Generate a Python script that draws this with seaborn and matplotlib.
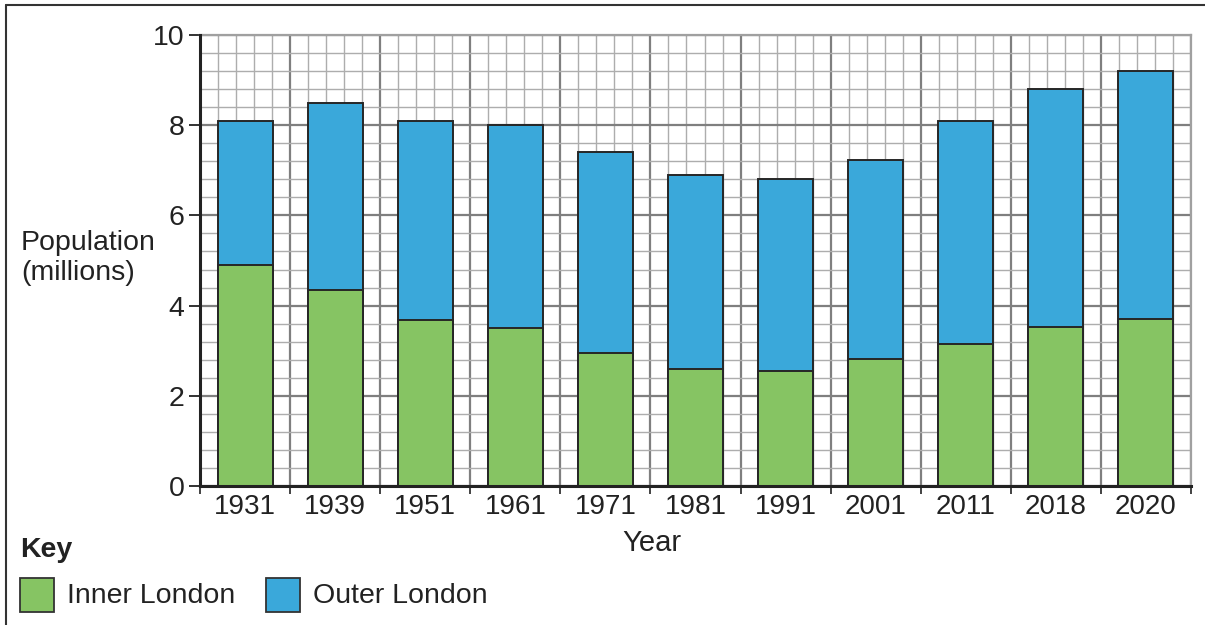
import numpy as np
import pandas as pd
import matplotlib
matplotlib.use("Agg")
import matplotlib.pyplot as plt
import seaborn as sns
from matplotlib.patches import Rectangle
from matplotlib.lines import Line2D

years = ["1931", "1939", "1951", "1961", "1971", "1981", "1991", "2001", "2011", "2018", "2020"]
inner = [4.9, 4.35, 3.67, 3.5, 2.95, 2.59, 2.56, 2.81, 3.15, 3.52, 3.7]
outer = [3.2, 4.15, 4.43, 4.5, 4.45, 4.31, 4.24, 4.41, 4.95, 5.28, 5.5]

green = "#86c463"
blue = "#3aa8da"
edge = "#262626"

df = pd.DataFrame({"Year": years, "Inner": inner, "Outer": outer})
df["Total"] = df["Inner"] + df["Outer"]

sns.set_style("white")
plt.rcParams["font.family"] = ["Liberation Sans", "DejaVu Sans"]

fig = plt.figure(figsize=(12.05, 6.25), dpi=100)
ax = fig.add_axes([200 / 1205, 1 - 486 / 625, 991 / 1205, 451 / 625])

# grid first
n = len(years)
for k in range(n * 5 + 1):
    x = -0.5 + k * 0.2
    major = k % 5 == 0
    ax.axvline(x, color="#7f7f7f" if major else "#adadad",
               lw=1.6 if major else 1.0, zorder=0)
for k in range(26):
    y = k * 0.4
    major = k % 5 == 0
    ax.axhline(y, color="#7f7f7f" if major else "#adadad",
               lw=1.6 if major else 1.0, zorder=0)

sns.barplot(data=df, x="Year", y="Total", color=blue, width=0.61,
            edgecolor=edge, linewidth=1.4, saturation=1, ax=ax, zorder=2)
sns.barplot(data=df, x="Year", y="Inner", color=green, width=0.61,
            edgecolor=edge, linewidth=1.4, saturation=1, ax=ax, zorder=3)

ax.set_xlim(-0.5, n - 0.5)
ax.set_ylim(0, 10)
ax.set_xlabel("")
ax.set_ylabel("")

ax.set_yticks([0, 2, 4, 6, 8, 10])
ax.set_yticklabels(["0", "2", "4", "6", "8", "10"], fontsize=20.5, color="#222222")
ax.set_xticks(np.arange(n))
ax.set_xticklabels(years, fontsize=20, color="#222222")
ax.tick_params(axis="x", length=0, pad=6)
ax.tick_params(axis="y", length=8, width=1.3, color="#222222", pad=3, left=True)
# x ticks at category boundaries
ax.set_xticks(np.arange(n + 1) - 0.5, minor=True)
ax.tick_params(axis="x", which="minor", bottom=True, length=6, width=1.2, color="#222222")

for s in ["left", "bottom"]:
    ax.spines[s].set_color("#222222")
    ax.spines[s].set_linewidth(2.2)
    ax.spines[s].set_zorder(5)
for s in ["top", "right"]:
    ax.spines[s].set_color("#a0a0a0")
    ax.spines[s].set_linewidth(1.6)

fig.text(21 / 1205, 1 - 258 / 625, "Population\n(millions)", fontsize=20.5,
         ha="left", va="center", ma="left", color="#222222", linespacing=1.2)
fig.text(652 / 1205, 1 - 543 / 625, "Year", fontsize=21, ha="center", va="center",
         color="#222222")

# key
fig.text(20 / 1205, 1 - 550 / 625, "Key", fontsize=20.5, fontweight="bold",
         ha="left", va="center", color="#222222")
for x0, col, lab, tx in [(20, green, "Inner London", 67), (266, blue, "Outer London", 313)]:
    fig.add_artist(Rectangle((x0 / 1205, 1 - 612 / 625), 34 / 1205, 34 / 625,
                             transform=fig.transFigure, facecolor=col,
                             edgecolor="#333333", lw=1.3))
    fig.text(tx / 1205, 1 - 596 / 625, lab, fontsize=20.5, ha="left", va="center",
             color="#222222")

# outer frame
fig.add_artist(Line2D([6 / 1205, 1], [1 - 5 / 625, 1 - 5 / 625],
                      transform=fig.transFigure, color="#333333", lw=1.5))
fig.add_artist(Line2D([6 / 1205, 6 / 1205], [0, 1 - 5 / 625],
                      transform=fig.transFigure, color="#333333", lw=1.5))

fig.savefig("out.png", dpi=100)
